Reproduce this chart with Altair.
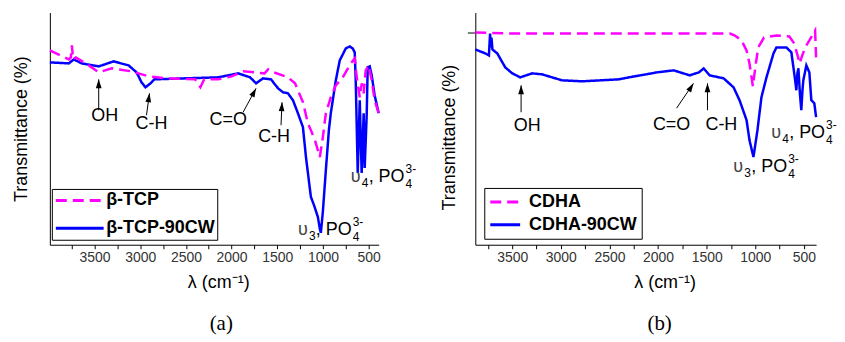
import altair as alt
import pandas as pd

FONT = "Liberation Sans"

# ---------------- Panel (a) data ----------------
a_names = ["β-TCP", "β-TCP-90CW"]
a_tcp_wn = [3990, 3782, 3760, 3749, 3735, 3705, 3564, 3455, 3313, 3095,
            2909, 2724, 2400, 2342, 2300, 2145, 2000, 1873, 1750, 1640,
            1600, 1567, 1382, 1306, 1274, 1219, 1165, 1132, 1088, 1034,
            1001, 968, 914, 859, 783, 696, 652, 630, 597, 575,
            554, 532, 499, 466, 434, 390]
a_tcp_t = [195, 186, 188, 200, 186, 188, 180, 173, 177, 174,
           169, 167, 166, 158, 166, 166, 169, 174, 173, 172,
           176, 174, 168, 162, 155, 143, 122, 115, 105, 88,
           108, 132, 148, 160, 168, 182, 187, 168, 148, 162,
           152, 175, 180, 165, 145, 132]
a_cw_wn = [3990, 3783, 3728, 3641, 3455, 3292, 3128, 3041, 2986, 2943,
           2888, 2845, 2500, 2146, 1928, 1797, 1732, 1656, 1569, 1492,
           1437, 1383, 1328, 1274, 1219, 1186, 1132, 1099, 1056, 1034,
           1023, 1001, 968, 935, 914, 859, 816, 750, 707, 674,
           652, 641, 619, 597, 576, 554, 543, 521, 510, 488,
           466, 434, 390]
a_cw_t = [183, 182, 186, 182, 179, 184, 180, 173, 163, 158,
          162, 166, 167, 168, 172, 168, 162, 167, 166, 157,
          153, 152, 145, 132, 118, 88, 48, 40, 28, 16,
          12, 33, 75, 115, 132, 165, 185, 197, 199, 197,
          193, 165, 72, 145, 72, 132, 77, 130, 178, 179,
          170, 150, 132]

# arrows: tail (wn, T) -> tip (wn, T), screen angle of the head
a_arr_wn0 = [3455, 2932, 1874, 1459]
a_arr_t0 = [135, 130, 133, 120]
a_arr_wn1 = [3455, 2899, 1732, 1448]
a_arr_t1 = [166, 152, 157, 143]
a_arr_ang = [0, 8, 28, 3]
a_lbl = ["OH", "C-H", "C=O", "C-H"]
a_lbl_wn = [3390, 2877, 2037, 1535]
a_lbl_t = [129, 121, 125, 108]
a_po4_sub = ["3", "4"]
a_po4_wn = [1274, 696]
a_po4_t = [15, 68]

# ---------------- Panel (b) data ----------------
b_names = ["CDHA", "CDHA-90CW"]
b_cdha_wn = [3880, 3500, 3000, 2500, 2000, 1500, 1260, 1210, 1142, 1090,
             1060, 1025, 1000, 970, 910, 783, 650, 600, 560, 545,
             506, 475, 444, 403, 385, 375]
b_cdha_t = [213, 212, 212, 212, 212, 212, 212, 210, 205, 195,
            182, 159, 178, 198, 208, 210, 209, 202, 188, 182,
            193, 200, 205, 212, 215, 188]
b_cw_wn = [3880, 3777, 3740, 3728, 3720, 3714, 3704, 3654, 3572, 3500,
           3418, 3295, 3193, 2988, 2783, 2403, 2300, 2065, 2013, 1839,
           1675, 1580, 1531, 1470, 1326, 1224, 1162, 1090, 1060, 1019,
           978, 937, 885, 813, 783, 680, 629, 608, 590, 578,
           567, 557, 540, 527, 515, 506, 475, 444, 424, 393,
           375]
b_cw_t = [196, 192, 190, 212, 198, 208, 196, 192, 178, 172,
          168, 172, 171, 165, 164, 166, 168, 172, 173, 175,
          170, 173, 177, 170, 167, 158, 145, 125, 105, 88,
          115, 148, 168, 192, 198, 198, 193, 178, 165, 155,
          172, 177, 150, 135, 155, 165, 180, 173, 145, 142,
          128]

b_arr_wn0 = [3409, 1810, 1492]
b_arr_t0 = [133, 137, 135]
b_arr_wn1 = [3409, 1636, 1492]
b_arr_t1 = [160, 162, 162]
b_arr_ang = [0, 32, 0]
b_lbl = ["OH", "C=O", "C-H"]
b_lbl_wn = [3347, 1861, 1349]
b_lbl_t = [119, 120, 120]
b_po4_sub = ["3", "4"]
b_po4_wn = [1226, 836]
b_po4_t = [78, 112]

X_TICKS = [3750, 3500, 3250, 3000, 2750, 2500, 2250, 2000, 1750, 1500, 1250, 1000, 750, 500]
T_DOMAIN = [0, 233]
COLORS = ["#FF00FF", "#0000FF"]
DASHES = [[11, 6], [1, 0]]


def make_panel(names, s1_wn, s1_t, s2_wn, s2_t, xdom, width, leg_opts,
               ytick, ytitle_pad, ytitle_y, xtitle_x,
               arr, lbl, po4, caption, cap_dx):
    def xenc(field):
        return alt.X(f"{field}:Q",
                     scale=alt.Scale(domain=xdom, reverse=True, nice=False, zero=False),
                     axis=alt.Axis(values=X_TICKS, format="d",
                                   labelExpr="datum.value % 500 == 0 ? datum.label : ''",
                                   tickSize=4, tickColor="black", domainColor="black",
                                   labelFont=FONT, labelFontSize=14, labelColor="#333333",
                                   labelPadding=2, labelFlush=False, labelOverlap=False,
                                   grid=False, titleFont=FONT, titleFontSize=18,
                                   titleFontWeight="normal", titleColor="black",
                                   titlePadding=9, titleX=xtitle_x),
                     title="λ (cm⁻¹)")

    def yenc(field):
        if ytick:
            ax = alt.Axis(values=ytick, tickSize=8, tickColor="black", labels=False,
                          grid=False, domainColor="black", titleFont=FONT,
                          titleFontSize=18, titleFontWeight="normal", titleColor="black",
                          titlePadding=ytitle_pad, titleY=ytitle_y)
        else:
            ax = alt.Axis(ticks=False, labels=False, grid=False, domainColor="black",
                          titleFont=FONT, titleFontSize=18, titleFontWeight="normal",
                          titleColor="black", titlePadding=ytitle_pad)
        return alt.Y(f"{field}:Q", scale=alt.Scale(domain=T_DOMAIN, nice=False, zero=False),
                     axis=ax, title="Transmittance (%)")

    df = pd.concat([
        pd.DataFrame({"wn": s2_wn, "T": s2_t, "series": names[1]}),
        pd.DataFrame({"wn": s1_wn, "T": s1_t, "series": names[0]}),
    ])
    leg = alt.Legend(orient="none", title=None, symbolType="M-3,0H3",
                     symbolStrokeWidth=3, labelFont=FONT, labelFontSize=18,
                     labelFontWeight="bold", labelColor="black", strokeColor="black",
                     fillColor="white", **leg_opts)
    lines = alt.Chart(df).mark_line(strokeWidth=2.5).encode(
        x=xenc("wn"), y=yenc("T"),
        color=alt.Color("series:N", scale=alt.Scale(domain=names, range=COLORS), legend=leg),
        strokeDash=alt.StrokeDash("series:N", scale=alt.Scale(domain=names, range=DASHES),
                                  legend=leg),
    )

    arr_df = pd.DataFrame({"wn": arr[0], "T": arr[1], "wn2": arr[2], "T2": arr[3], "ang": arr[4]})
    shafts = alt.Chart(arr_df).mark_rule(color="black", strokeWidth=1).encode(
        x=xenc("wn"), y=yenc("T"), x2="wn2:Q", y2="T2:Q")
    heads_df = pd.DataFrame({"wn": arr[2], "T": arr[3], "ang": arr[4]})
    heads = alt.Chart(heads_df).mark_point(
        shape="M0,0L-0.32,1L0.32,1Z", filled=True, color="black", size=324, opacity=1,
        strokeWidth=0).encode(x=xenc("wn"), y=yenc("T"), angle=alt.Angle("ang:Q", scale=None))

    lbl_df = pd.DataFrame({"label": lbl[0], "wn": lbl[1], "T": lbl[2]})
    texts = alt.Chart(lbl_df).mark_text(font=FONT, fontSize=18, color="black",
                                         align="center", baseline="middle").encode(
        x=xenc("wn"), y=yenc("T"), text="label:N")

    po_df = pd.DataFrame({"sub": po4[0], "wn": po4[1], "T": po4[2]})
    base = alt.Chart(po_df)
    common = dict(font=FONT, color="black", align="left", baseline="middle")
    po_layers = [
        base.mark_text(text="υ", fontSize=18, dx=0, **{**common, "color": "#444444"}).encode(
            x=xenc("wn"), y=yenc("T")),
        base.mark_text(fontSize=12, dx=11, dy=6, **common).encode(
            x=xenc("wn"), y=yenc("T"), text="sub:N"),
        base.mark_text(text=", PO", fontSize=18, dx=18, **common).encode(
            x=xenc("wn"), y=yenc("T")),
        base.mark_text(text="4", fontSize=12, dx=55, dy=7, **common).encode(
            x=xenc("wn"), y=yenc("T")),
        base.mark_text(text="3-", fontSize=12, dx=55, dy=-8, **common).encode(
            x=xenc("wn"), y=yenc("T")),
    ]

    return alt.layer(lines, shafts, heads, texts, *po_layers).properties(
        width=width, height=233,
        title=alt.TitleParams(caption, orient="bottom", font="Liberation Serif", fontSize=21,
                              fontWeight="normal", color="black", offset=22, dx=cap_dx),
    )


pa = make_panel(a_names, a_tcp_wn, a_tcp_t, a_cw_wn, a_cw_t, [390, 3990], 330,
                dict(legendX=2, legendY=177, symbolSize=256, symbolOffset=16.5,
                     labelOffset=17, padding=2, rowPadding=9),
                None, 19, None, 169,
                (a_arr_wn0, a_arr_t0, a_arr_wn1, a_arr_t1, a_arr_ang),
                (a_lbl, a_lbl_wn, a_lbl_t), (a_po4_sub, a_po4_wn, a_po4_t), "(a)", 7)
pb = make_panel(b_names, b_cdha_wn, b_cdha_t, b_cw_wn, b_cw_t, [375, 3880], 342,
                dict(legendX=9, legendY=176, symbolSize=100, symbolOffset=7,
                     labelOffset=15, padding=5, rowPadding=5),
                [213], 8, 125, 190,
                (b_arr_wn0, b_arr_t0, b_arr_wn1, b_arr_t1, b_arr_ang),
                (b_lbl, b_lbl_wn, b_lbl_t), (b_po4_sub, b_po4_wn, b_po4_t), "(b)", 14)

chart = alt.hconcat(pa, pb, spacing=97, bounds="flush").resolve_scale(
    color="independent", strokeDash="independent", x="independent", y="independent"
).resolve_legend(color="independent", strokeDash="independent").properties(
    padding={"left": 5, "top": 4, "right": 0, "bottom": 0}
).configure_view(stroke=None)

chart.save("out.html", embed_options={"renderer": "svg", "actions": False})
